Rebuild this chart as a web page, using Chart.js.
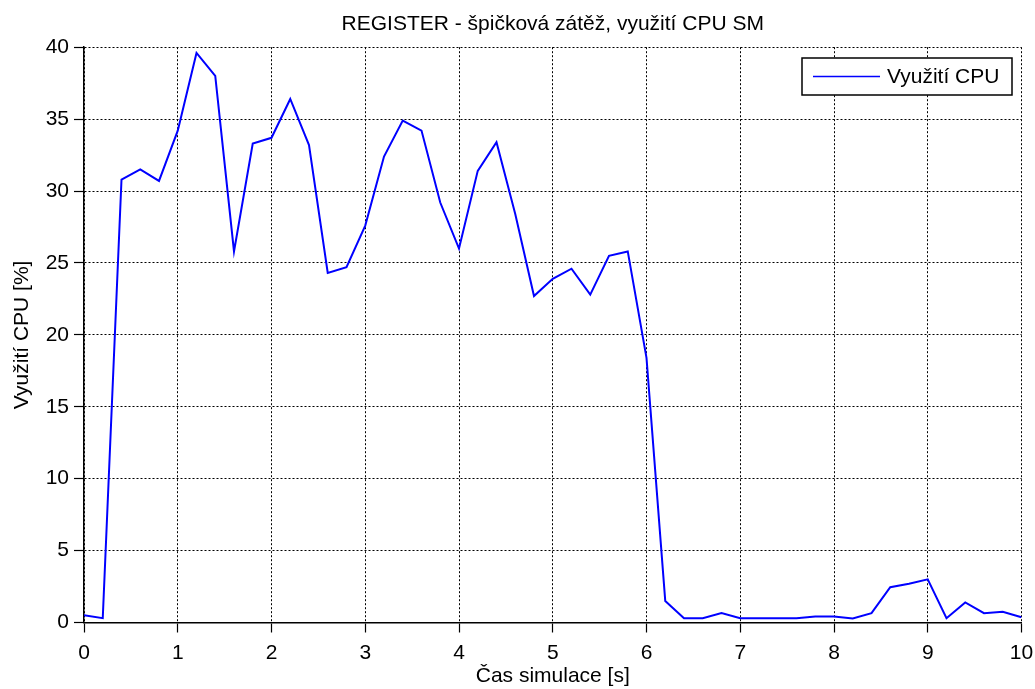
<!DOCTYPE html>
<html>
<head>
<meta charset="utf-8">
<title>REGISTER - využití CPU SM</title>
<script src="https://cdn.jsdelivr.net/npm/chart.js@4/dist/chart.umd.min.js"></script>
<style>
    html, body { margin: 0; padding: 0; background: #fff; }
    #wrap { width: 1035px; height: 689px; }
</style>
</head>
<body>
<div id="wrap"><canvas id="myChart" width="1035" height="689"></canvas></div>
<script>
// cas simulace [s]
let casy = [0, 0.2, 0.4, 0.6, 0.8, 1, 1.2, 1.4, 1.6, 1.8,
            2, 2.2, 2.4, 2.6, 2.8, 3, 3.2, 3.4, 3.6, 3.8,
            4, 4.2, 4.4, 4.6, 4.8, 5, 5.2, 5.4, 5.6, 5.8,
            6, 6.2, 6.4, 6.6, 6.8, 7, 7.2, 7.4, 7.6, 7.8,
            8, 8.2, 8.4, 8.6, 8.8, 9, 9.2, 9.4, 9.6, 9.8, 10];

// vyuziti CPU [%]
let vyuzitiCpu = [0.5, 0.3, 30.8, 31.5, 30.7, 34.2, 39.6, 38.0, 25.8, 33.3,
                  33.7, 36.4, 33.2, 24.3, 24.7, 27.6, 32.4, 34.9, 34.2, 29.2,
                  26.0, 31.4, 33.4, 28.4, 22.7, 23.9, 24.6, 22.8, 25.5, 25.8,
                  18.4, 1.5, 0.3, 0.3, 0.65, 0.3, 0.3, 0.3, 0.3, 0.42,
                  0.42, 0.28, 0.65, 2.45, 2.7, 3.0, 0.3, 1.4, 0.65, 0.75, 0.37];

let xTicks = [0, 1, 2, 3, 4, 5, 6, 7, 8, 9, 10];
let yTicks = [0, 5, 10, 15, 20, 25, 30, 35, 40];

let nazevGrafu = 'REGISTER - špičková zátěž, využití CPU SM';
let nazevSerie = 'Využití CPU';
let osaX = 'Čas simulace [s]';
let osaY = 'Využití CPU [%]';

let pismo = "'Liberation Sans', Arial, Helvetica, sans-serif";

let body = casy.map((t, i) => ({ x: t, y: vyuzitiCpu[i] }));

//legenda v rohu grafu (jako v matlabu)
let legendaPlugin = {
    id: 'legendaMatlab',
    afterDraw: function (chart) {
        let ctx = chart.ctx;
        let ds = chart.data.datasets[0];
        ctx.save();
        ctx.fillStyle = '#ffffff';
        ctx.fillRect(802, 58, 210, 37);
        ctx.strokeStyle = '#000000';
        ctx.lineWidth = 1.5;
        ctx.strokeRect(802, 58, 210, 37);
        ctx.strokeStyle = ds.borderColor;
        ctx.lineWidth = 1.5;
        ctx.beginPath();
        ctx.moveTo(813, 76.5);
        ctx.lineTo(880, 76.5);
        ctx.stroke();
        ctx.fillStyle = '#000000';
        ctx.font = '21px ' + pismo;
        ctx.textBaseline = 'middle';
        ctx.textAlign = 'left';
        ctx.fillText(ds.label, 887, 77);
        ctx.restore();
    }
};

let ctx = document.getElementById('myChart');

let myLineChart = new Chart(ctx, {
    type: 'line',
    data: {
        datasets: [{
            label: nazevSerie,
            data: body,
            borderColor: '#0000ff',
            borderWidth: 2,
            pointRadius: 0,
            tension: 0,
            fill: false
        }]
    },
    options: {
        responsive: false,
        animation: false,
        devicePixelRatio: 1,
        layout: {
            padding: { left: 0, right: 13.5, top: 0, bottom: 0 }
        },
        plugins: {
            legend: { display: false },
            tooltip: { enabled: false },
            title: {
                display: true,
                fullSize: false,
                text: nazevGrafu,
                color: '#000',
                font: { family: pismo, size: 21, weight: 'normal' },
                padding: { top: 12, bottom: 10 }
            }
        },
        scales: {
            x: {
                type: 'linear',
                min: 0,
                max: 10,
                afterBuildTicks: function (scale) {
                    scale.ticks = xTicks.map(v => ({ value: v }));
                },
                afterFit: function (scale) {
                    scale.height = 66.5;
                    scale.paddingLeft = 0;
                    scale.paddingRight = 0;
                },
                ticks: {
                    color: '#000',
                    font: { family: pismo, size: 21 },
                    padding: 8,
                    maxRotation: 0
                },
                grid: {
                    color: '#000',
                    lineWidth: 1,
                    tickLength: 10,
                    tickColor: '#000',
                    tickWidth: 1.2,
                    tickBorderDash: [20, 0]
                },
                border: { color: '#000', width: 1.5, dash: [2, 2] },
                title: {
                    display: true,
                    text: osaX,
                    color: '#000',
                    font: { family: pismo, size: 21 },
                    padding: { top: 0, bottom: 0 }
                }
            },
            y: {
                type: 'linear',
                min: 0,
                max: 40,
                afterBuildTicks: function (scale) {
                    scale.ticks = yTicks.map(v => ({ value: v }));
                },
                afterFit: function (scale) {
                    scale.width = 84;
                },
                ticks: {
                    color: '#000',
                    font: { family: pismo, size: 21 },
                    padding: 5
                },
                grid: {
                    color: '#000',
                    lineWidth: 1,
                    tickLength: 10,
                    tickColor: '#000',
                    tickWidth: 1.2,
                    tickBorderDash: [20, 0]
                },
                border: { color: '#000', width: 1.5, dash: [2, 2] },
                title: {
                    display: true,
                    text: osaY,
                    color: '#000',
                    font: { family: pismo, size: 21 },
                    padding: { top: 10, bottom: 0 }
                }
            }
        }
    },
    plugins: [legendaPlugin]
});
</script>
</body>
</html>
